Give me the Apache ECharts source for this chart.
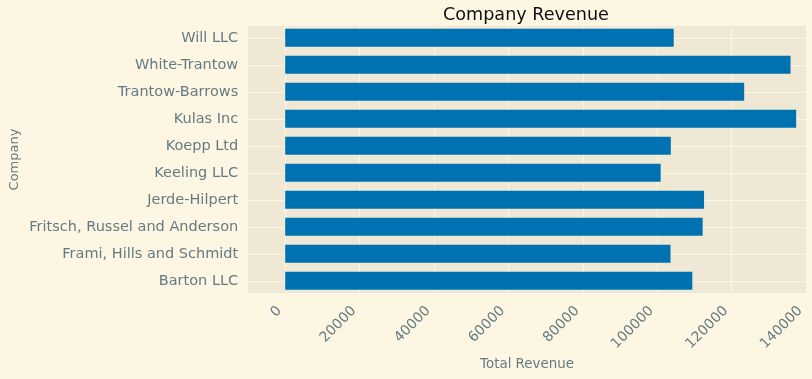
<!DOCTYPE html>
<html>
<head>
<meta charset="utf-8">
<script src="https://cdn.jsdelivr.net/npm/echarts@6/dist/echarts.min.js"></script>
<style>
html,body{margin:0;padding:0;background:#fdf6e3;}
#chart{width:812px;height:379px;}
</style>
</head>
<body>
<div id="chart"></div>
<script>
// Categories listed bottom to top, as drawn
var companies = [
  "Barton LLC",
  "Frami, Hills and Schmidt",
  "Fritsch, Russel and Anderson",
  "Jerde-Hilpert",
  "Keeling LLC",
  "Koepp Ltd",
  "Kulas Inc",
  "Trantow-Barrows",
  "White-Trantow",
  "Will LLC"
];
var revenue = [109438.50, 103569.59, 112214.71, 112591.43, 100934.30, 103660.54, 137351.96, 123381.38, 135841.99, 104437.60];
var xTickMin = 0;
var xTickMax = 140000;
var xTickStep = 20000;
var xLimMin = -10000;

var FONT = "DejaVu Sans";
var TXT = "#657b83";
var GRIDC = "#fdf6e3";

var chart = echarts.init(document.getElementById('chart'), null, {renderer: 'canvas'});
chart.setOption({
  animation: false,
  backgroundColor: "#fdf6e3",
  textStyle: {fontFamily: FONT},
  title: {
    text: "Company Revenue",
    left: 443, top: 6, padding: 0,
    textStyle: {fontFamily: FONT, fontSize: 17.6, fontWeight: "normal", color: "#111111"}
  },
  grid: [
    {left: 248, right: 6, top: 26, bottom: 86, show: true, backgroundColor: "#eee8d5", borderWidth: 0, z: -1, containLabel: false},
    {left: 285.2, right: 6, top: 26, bottom: 86, containLabel: false},
    {left: 285.2, right: 6, top: 24.3, bottom: 84.7, containLabel: false},
    {left: 248, right: 6, top: 37.8, bottom: 98.2, containLabel: false}
  ],
  xAxis: [
    {gridIndex: 0, type: "value", min: xLimMin, max: xTickMax,
     axisLine: {show: false}, axisTick: {show: false}, axisLabel: {show: false}, splitLine: {show: false},
     name: "Total Revenue", nameLocation: "middle", nameGap: 65,
     nameTextStyle: {fontFamily: FONT, fontSize: 13.4, color: TXT}},
    {gridIndex: 1, type: "value", min: xTickMin, max: xTickMax, interval: xTickStep,
     axisLine: {show: false}, axisTick: {show: false},
     axisLabel: {show: true, rotate: 45, margin: 10, padding: [0, 8, 0, 0], fontFamily: FONT, fontSize: 14, color: TXT,
       formatter: function (v) { return String(v); }},
     splitLine: {show: true, lineStyle: {color: GRIDC, width: 1}}},
    {gridIndex: 2, type: "value", min: xTickMin, max: xTickMax, show: false},
    {gridIndex: 3, type: "value", min: 0, max: 1, show: false}
  ],
  yAxis: [
    {gridIndex: 0, type: "value", min: 0, max: 1,
     axisLine: {show: false}, axisTick: {show: false}, axisLabel: {show: false}, splitLine: {show: false},
     name: "Company", nameLocation: "middle", nameRotate: 90, nameGap: 227,
     nameTextStyle: {fontFamily: FONT, fontSize: 13, color: TXT}},
    {gridIndex: 1, type: "value", min: 0, max: 1, show: false},
    {gridIndex: 2, type: "category", data: companies, boundaryGap: true,
     axisLine: {show: false}, axisTick: {show: false}, splitLine: {show: false},
     axisLabel: {show: true, margin: 47, fontFamily: FONT, fontSize: 14.5, color: TXT}},
    {gridIndex: 3, type: "category", data: companies, boundaryGap: false,
     axisLine: {show: false}, axisTick: {show: false}, axisLabel: {show: false},
     splitLine: {show: true, lineStyle: {color: GRIDC, width: 1}}}
  ],
  series: [{
    type: "bar",
    xAxisIndex: 2, yAxisIndex: 2,
    data: revenue,
    barWidth: 18,
    z: 5,
    itemStyle: {color: "#0072b2"}
  }]
});
</script>
</body>
</html>
